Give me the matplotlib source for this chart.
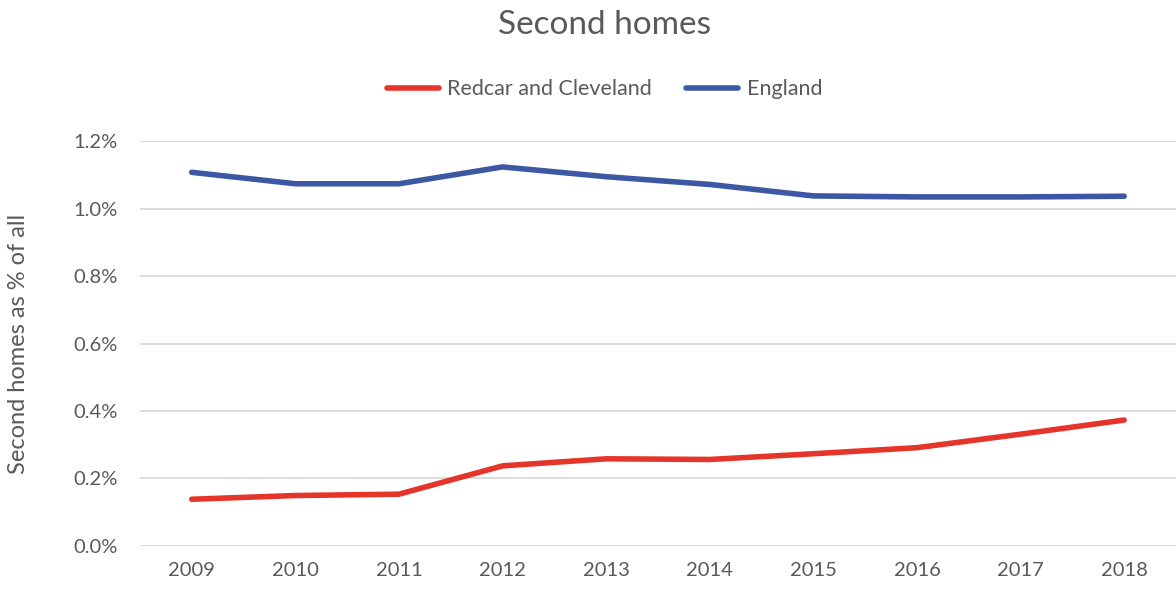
import numpy as np
import matplotlib.pyplot as plt
from matplotlib.ticker import FuncFormatter

plt.rcParams['font.family'] = ['Lato', 'DejaVu Sans']

years = ['2009', '2010', '2011', '2012', '2013', '2014', '2015', '2016', '2017', '2018']
redcar = [0.138, 0.149, 0.153, 0.237, 0.258, 0.256, 0.273, 0.291, 0.331, 0.373]
england = [1.108, 1.074, 1.074, 1.124, 1.095, 1.072, 1.038, 1.035, 1.035, 1.037]

grey = '#595959'
fig = plt.figure(figsize=(11.76, 5.9), dpi=100)
ax = fig.add_axes([0.119, 0.075, 0.881, 0.6855])

x = np.arange(len(years))
ax.plot(x, redcar, color='#E5352A', lw=4, solid_capstyle='round', label='Redcar and Cleveland')
ax.plot(x, england, color='#3C57A4', lw=4, solid_capstyle='round', label='England')

ax.set_xlim(-0.5, 9.5)
ax.set_ylim(0, 1.2)
ax.set_yticks(np.arange(0, 1.21, 0.2))
ax.yaxis.set_major_formatter(FuncFormatter(lambda v, p: f'{v:.1f}%'))
ax.set_xticks(x)
ax.set_xticklabels(years)
ax.grid(axis='y', color='#d9d9d9', lw=1.3)
ax.set_axisbelow(True)
for s in ax.spines.values():
    s.set_visible(False)
ax.tick_params(length=0, labelsize=14.5, colors=grey, pad=12)
ax.tick_params(axis='y', pad=16)
ax.set_ylabel('Second homes as % of all', fontsize=17, color=grey)
ax.yaxis.set_label_coords(-0.1075, 0.5)

fig.text(0.514, 0.957, 'Second homes', ha='center', va='center', fontsize=24, color=grey)
fig.legend(loc='center', bbox_to_anchor=(0.514, 0.849), ncol=2, frameon=False,
           fontsize=15.5, labelcolor=grey, handlelength=2.4, columnspacing=1.6, handletextpad=0.4)

fig.savefig('out.png', dpi=100)
